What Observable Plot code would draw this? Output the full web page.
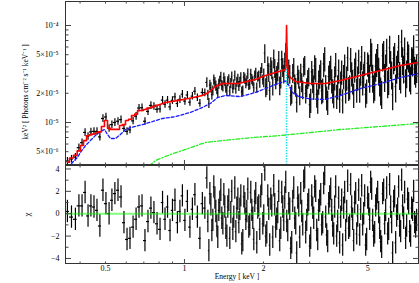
<!DOCTYPE html>
<html><head><meta charset="utf-8">
<script src="https://cdn.jsdelivr.net/npm/d3@7"></script>
<script src="https://cdn.jsdelivr.net/npm/@observablehq/plot@0.6"></script>
<style>
html,body{margin:0;padding:0;background:#fff;}
#wrap{position:relative;width:419px;height:283px;overflow:hidden;background:#fff;}
#top,#bot{position:absolute;left:0;}
#top{top:0;} #bot{top:164px;}
svg{display:block;}
</style></head><body><div id="wrap"><div id="top"></div><div id="bot"></div></div>
<script>
// ---------- DATA ----------
// bin centres (keV), first channel group
const energy = [
0.358,0.371,0.384,0.396,0.407,0.418,0.429,0.440,0.452,0.464,0.476,0.489,0.502,0.516,0.529,0.543,0.558,0.573,0.588,0.604,0.620,0.637,0.654,0.671,0.689,0.707,0.726,0.745,0.765,0.786,
0.807,0.825,0.843,0.862,0.881,0.900,0.920,0.940,0.961,0.982,1.004,1.026,1.049,1.072,1.096,1.120,1.145,1.170,1.196,
1.217,1.239,1.261,1.283,1.306,1.329,1.352,1.376,1.401,1.425,
1.451,1.476,1.502,1.529,1.556,1.584,1.612,1.640,1.669,1.699,
1.729,1.759,1.790,1.822,1.854,1.887,1.920,1.954,1.989,2.024,
2.060,2.096,2.133,2.171,2.209,2.248,2.288,2.329,2.370,2.412,
2.454,2.498,2.542,2.587,2.633,2.679,2.727,2.775,2.824,2.874,
2.925,2.977,3.029,3.083,3.137,3.193,3.249,3.307,3.365,3.425,
3.485,3.547,3.610,3.674,3.739,3.805,3.872,3.941,4.010,4.081,
4.154,4.227,4.302,4.378,4.456,4.535,4.615,4.697,4.780,4.864,
4.950,5.038,5.127,5.218,5.310,5.404,5.500,5.597,5.696,5.797,
5.900,6.004,6.110,6.218,6.328,6.440,6.554,6.670,6.788,6.908,
7.030,7.155,7.281,7.410,7.541,7.675];
// keV^2 flux, in units of 1e-6 photons cm^-2 s^-1 keV^-1 keV^2
const flux = [
4.0,4.2,4.4,5.5,6.2,7.9,7.2,8.0,8.1,8.1,7.1,11.0,11.4,8.7,9.5,10.0,10.3,10.7,8.7,8.1,8.4,10.4,11.6,14.1,14.2,10.3,13.0,15.0,14.7,13.7,
13.8,17.0,15.4,17.0,14.5,16.9,18.4,15.7,17.3,19.6,16.6,19.2,16.2,18.7,21.0,18.1,15.8,20.4,20.3,
25.9,15.8,22.9,21.3,26.0,21.9,25.0,29.5,23.4,26.5,
21.4,27.7,25.4,22.5,30.3,26.2,23.7,29.1,21.3,28.2,
26.9,24.3,31.6,26.5,30.3,22.8,30.3,32.8,27.6,51.9,
24.4,33.1,38.1,24.1,36.5,30.9,44.2,28.4,37.4,42.3,
48.0,36.2,18.9,32.4,25.3,16.1,28.3,32.6,22.0,39.2,
23.2,29.7,17.2,27.5,38.2,19.5,26.5,33.8,21.9,46.1,
18.2,29.8,37.7,21.6,29.3,18.9,34.4,25.8,17.0,38.7,
29.2,22.8,45.3,26.9,35.2,22.0,43.5,32.8,26.1,41.4,
21.4,37.3,54.6,29.5,24.4,42.9,34.8,21.8,48.8,30.0,
54.7,28.0,40.9,19.4,49.4,36.5,59.8,28.9,44.6,56.2,
32.7,47.7,28.2,43.4,35.7,37.2];
// residuals (chi)
const chi = [
0.2,-0.3,-0.5,0.7,0.7,1.9,-0.2,0.7,0.6,0.3,-1.1,2.1,0.9,0.0,1.2,1.8,2.1,1.5,-0.8,-2.3,-2.2,-1.2,-0.5,0.6,0.7,-2.4,-0.7,0.5,0.1,-0.9,
-1.4,1.0,-0.5,0.6,-1.5,0.3,1.2,-0.8,0.2,1.6,-0.6,1.1,-1.2,0.4,1.7,-0.3,-2.2,0.9,0.5,
3.2,-3.3,0.8,-0.6,1.4,-1.1,0.3,2.1,-0.9,0.6,
-2.0,1.2,0.1,-1.4,2.3,0.5,-0.8,1.6,-2.4,0.9,
0.2,-1.2,1.9,-0.4,1.1,-2.6,0.7,1.5,-0.9,3.9,
-1.7,0.4,1.3,-2.1,0.8,-0.5,2.0,-1.3,0.6,1.4,
-0.7,0.9,-3.1,1.1,-0.4,-3.5,0.7,1.8,-1.0,3.2,
-0.6,1.2,-2.2,0.5,2.4,-1.5,0.3,1.7,-0.8,3.5,
-1.9,0.9,2.2,-1.1,0.6,-2.0,1.4,-0.3,-2.8,1.9,
0.2,-1.3,2.6,-0.5,1.0,-1.8,2.1,0.4,-1.0,1.6,
-2.3,0.8,2.8,-0.6,-1.7,1.3,0.1,-2.5,1.8,-0.9,
2.3,-1.4,0.6,-3.5,1.5,-0.2,2.4,-1.6,0.7,1.9,
-1.1,0.9,-2.0,0.3,-0.8,-0.6];
// second, interleaved channel group above 1.2 keV
const energy2 = [
1.228,1.250,1.272,1.294,1.317,1.340,1.364,1.388,1.413,1.438,
1.463,1.489,1.515,1.542,1.570,1.598,1.626,1.654,1.684,1.714,
1.744,1.774,1.806,1.838,1.870,1.903,1.937,1.971,2.006,2.042,
2.078,2.114,2.152,2.190,2.228,2.268,2.308,2.349,2.391,2.433,
2.476,2.520,2.564,2.610,2.656,2.703,2.751,2.799,2.849,2.899,
2.951,3.003,3.056,3.110,3.165,3.221,3.278,3.336,3.395,3.455,
3.516,3.578,3.642,3.706,3.772,3.838,3.906,3.975,4.045,4.117,
4.190,4.264,4.340,4.417,4.495,4.575,4.656,4.738,4.822,4.907,
4.994,5.082,5.172,5.264,5.357,5.452,5.548,5.646,5.746,5.848,
5.952,6.057,6.164,6.273,6.384,6.497,6.612,6.729,6.848,6.969,
7.092,7.218,7.345,7.475,7.608];
const flux2 = [
19.2,24.3,19.4,27.5,23.9,20.3,26.7,24.2,28.9,22.7,
26.5,21.1,29.6,24.6,22.2,28.0,26.2,20.7,29.3,25.3,
31.8,24.8,27.9,22.9,32.3,29.5,25.7,36.3,29.2,23.1,
38.7,21.4,35.3,45.8,27.9,33.8,24.2,44.5,31.9,53.0,
30.9,31.7,19.8,37.4,23.3,31.4,19.1,26.0,37.6,19.9,
28.1,15.3,33.2,23.5,35.6,16.9,30.5,21.2,40.2,23.9,
16.4,33.2,27.3,19.2,40.1,23.7,17.3,33.6,30.2,21.6,
46.7,23.7,32.3,19.4,40.7,29.1,21.9,47.4,31.2,19.5,
40.7,29.5,49.2,23.0,38.2,48.2,27.0,20.0,51.8,37.6,
25.8,58.8,31.8,45.6,23.4,41.0,31.5,67.8,36.6,26.5,
51.1,30.2,44.8,59.5,33.2];
const chi2 = [
-0.7,1.8,-1.5,2.4,0.2,-2.1,1.0,-0.4,1.7,-1.3,
0.6,-2.2,2.0,-0.3,-1.6,1.3,0.4,-2.7,1.5,-0.5,
2.2,-1.0,0.3,-2.3,1.8,0.5,-1.4,2.6,-0.2,-2.0,
1.6,-2.8,0.7,2.5,-1.2,0.1,-2.4,1.9,-0.6,2.8,
-1.5,0.4,-2.6,2.3,-0.9,1.4,-2.1,0.2,2.9,-1.7,
0.8,-2.9,1.6,-0.4,2.0,-2.3,1.1,-1.0,2.7,-0.3,
-2.5,1.5,0.3,-1.8,2.4,-0.7,-2.6,1.2,0.5,-1.5,
2.9,-1.1,0.6,-2.4,1.8,-0.2,-1.9,2.5,0.0,-2.8,
1.4,-0.5,2.2,-2.0,0.7,1.9,-1.3,-3.0,2.1,0.3,
-1.8,2.6,-0.8,1.1,-2.6,0.4,-1.1,3.0,-0.4,-2.2,
1.3,-1.6,0.5,2.0,-1.2];
// relative flux errors by energy band
const errEdges = [0.8, 1.2, 2.0, 3.0, 5.0];
const errRel   = [0.09, 0.09, 0.12, 0.22, 0.28, 0.32];

// total model (red): binned part at low energies, then smooth
const modelStepE = energy.slice(0, 30);
const modelStepF = [3.9,4.3,4.6,5.1,5.8,6.5,7.3,7.5,7.6,7.9,8.0,9.1,10.5,8.7,8.5,8.5,8.5,9.3,9.5,10.5,10.8,11.8,12.2,13.3,13.3,13.6,14.0,14.3,14.6,15.0];
const modelE = [0.786,0.847,0.924,1.036,1.171,1.235,1.313,1.396,1.607,1.864,2.036,2.223,2.405,2.435,2.45,2.465,2.49,2.535,2.649,3.021,3.446,3.932,4.686,5.585,6.656,7.8];
const modelF = [15.0,16.1,16.7,17.7,19.0,20.4,23.5,25.2,25.2,27.8,30.5,32.8,34.8,36,100,42,32,29.1,26.5,25.2,25.2,27.1,30.5,34.3,38.7,41.6];
// thermal component (blue dashed)
const compE = [0.352,0.374,0.391,0.401,0.420,0.438,0.458,0.478,0.496,0.509,0.522,0.546,0.570,0.596,0.623,0.692,0.755,0.825,0.924,1.054,1.171,1.256,1.336,1.433,1.635,1.864,2.036,2.223,2.427,2.491,2.58,2.72,3.021,3.446,3.932,4.686,5.585,6.656,7.8];
const compF = [3.1,3.87,4.36,4.9,5.79,6.52,7.36,8.08,8.47,7.52,6.84,6.84,7.52,8.47,8.88,9.53,10.2,11.0,11.5,12.7,14.3,15.7,18.1,19.0,18.5,20.4,22.4,24.6,26.8,24.6,20.4,18.5,17.5,17.3,19.0,22.4,25.2,29.1,32.0];
// power-law component (green dash-dot)
const powE = [0.70,0.729,0.776,0.885,1.009,1.20,1.40,1.82,2.32,3.93,5.58,7.8];
const powF = [3.0,3.52,4.06,4.68,5.27,6.22,6.52,7.0,7.34,8.47,9.1,9.77];
// gaussian line (cyan dotted)
const lineE = [2.45];
const lineTop = 42;

// ticks
const xDomain = [0.352, 7.8];
const xMajor = [1];
const xMinor = [0.4,0.5,0.6,0.7,0.8,0.9,2,3,4,5,6,7];
const xLabelVals = [0.5, 1, 2, 5];
const xLabelText = ["0.5", "1", "2", "5"];
const yDomain = [3.69, 176.8];
const yMajor = [10, 100];
const yMinor = [4,5,6,7,8,9,20,30,40,50,60,70,80,90];
const yLabelVals = [100, 50, 20, 10, 5];
const yLabelText = ["10⁻⁴", "5×10⁻⁵", "2×10⁻⁵", "10⁻⁵", "5×10⁻⁶"];
const chiDomain = [-4.45, 4.31];
const chiMajor = [-4,-2,0,2,4];
const chiMinor = [-3,-1,1,3];
const chiLabelText = ["−4","−2","0","2","4"];
const yTitle = "keV² [ Photons cm⁻² s⁻¹ keV⁻¹ ]";
const xTitle = "Energy [ keV ]";
const chiTitle = "χ";

// ---------- BUILD ----------
const W = 419, ML = 65, MR = 1;
const FW = W - ML - MR;
const font = "'Liberation Serif','Times New Roman',serif";
const tickColor = "#444";
const barW = 1.2;

const rows = energy.map((e, i) => ({e, f: flux[i], c: chi[i]}))
  .concat(energy2.map((e, i) => ({e, f: flux2[i], c: chi2[i]})))
  .sort((a, b) => a.e - b.e);
const bins = rows.map((r, i) => {
  const e = r.e;
  const prev = i > 0 ? rows[i-1].e : e*e/rows[i+1].e;
  const next = i < rows.length-1 ? rows[i+1].e : e*e/rows[i-1].e;
  const rel = errRel[d3.bisectRight(errEdges, e)];
  return {e, lo: Math.sqrt(prev*e), hi: Math.sqrt(e*next), f: r.f, err: rel*r.f, chi: r.c};
});

function frameTicks(tx, ty, size, fh) {
  const common = {tickSize: size, tickFormat: () => "", label: null, stroke: tickColor};
  return [
    Plot.axisX({...common, anchor: "bottom", ticks: tx, dy: -fh}),
    Plot.axisX({...common, anchor: "top", ticks: tx, dy: fh}),
    Plot.axisY({...common, anchor: "right", ticks: ty, dx: -FW}),
    Plot.axisY({...common, anchor: "left", ticks: ty, dx: FW})
  ];
}
const pairs = (a, b) => a.map((v, i) => [v, b[i]]);

const topH = 165, topFH = topH - 2;
const topPlot = Plot.plot({
  width: W, height: topH, marginLeft: ML, marginRight: MR, marginTop: 1, marginBottom: 1,
  style: {fontFamily: font, fontSize: "8px", background: "transparent", color: "#000"},
  x: {type: "log", domain: xDomain, axis: null},
  y: {type: "log", domain: yDomain, axis: null},
  marks: [
    Plot.ruleX(bins, {x: "e", y1: d => d.f - d.err, y2: d => d.f + d.err, stroke: "#000", strokeWidth: barW, clip: true}),
    Plot.ruleY(bins, {y: "f", x1: "lo", x2: "hi", stroke: "#000", strokeWidth: 1.2, clip: true}),
    Plot.line(pairs(powE, powF), {x: d => d[0], y: d => d[1], stroke: "#22ee22", strokeWidth: 1.3, strokeDasharray: "4,2,1.2,2", clip: true}),
    Plot.line(pairs(compE, compF), {x: d => d[0], y: d => d[1], stroke: "#1a1aff", strokeWidth: 1.3, strokeDasharray: "3,2", clip: true}),
    Plot.ruleX(lineE, {x: d => d, y1: 1, y2: lineTop, stroke: "#22e0ee", strokeWidth: 1.6, strokeDasharray: "1.5,1.2", clip: true}),
    Plot.line(pairs(modelStepE, modelStepF), {x: d => d[0], y: d => d[1], curve: "step", stroke: "#ff0000", strokeWidth: 1.6, clip: true}),
    Plot.line(pairs(modelE, modelF), {x: d => d[0], y: d => d[1], stroke: "#ff0000", strokeWidth: 1.6, clip: true}),
    Plot.frame({stroke: "#333", strokeWidth: 1}),
    ...frameTicks(xMajor, yMajor, 5, topFH),
    ...frameTicks(xMinor, yMinor, 2.5, topFH),
    Plot.axisY({anchor: "left", ticks: yLabelVals, tickSize: 0, tickPadding: 7, label: null,
      tickFormat: d => yLabelText[yLabelVals.indexOf(d)], fontSize: 8}),
    Plot.text([yTitle], {text: d => d, frameAnchor: "left", textAnchor: "middle", lineAnchor: "middle",
      dx: -40, dy: 9, rotate: -90, fontSize: 7.5, fill: "#000"})
  ]
});
document.getElementById("top").append(topPlot);

const botH = 119, botFH = botH - 1 - 20;
const botPlot = Plot.plot({
  width: W, height: botH, marginLeft: ML, marginRight: MR, marginTop: 1, marginBottom: 20,
  style: {fontFamily: font, fontSize: "8px", background: "transparent", color: "#000", overflow: "visible"},
  x: {type: "log", domain: xDomain, axis: null},
  y: {domain: chiDomain, axis: null},
  marks: [
    Plot.ruleX(bins, {x: "e", y1: d => d.chi - 1, y2: d => d.chi + 1, stroke: "#000", strokeWidth: barW, clip: true}),
    Plot.ruleY(bins, {y: "chi", x1: "lo", x2: "hi", stroke: "#000", strokeWidth: 1.2, clip: true}),
    Plot.ruleY([0], {stroke: "#00ff00", strokeOpacity: 0.5, strokeWidth: 2}),
    Plot.frame({stroke: "#333", strokeWidth: 1}),
    ...frameTicks(xMajor, chiMajor, 5, botFH),
    ...frameTicks(xMinor, chiMinor, 2.5, botFH),
    Plot.axisY({anchor: "left", ticks: chiMajor, tickSize: 0, tickPadding: 6, label: null,
      tickFormat: d => chiLabelText[chiMajor.indexOf(d)], fontSize: 8}),
    Plot.axisX({anchor: "bottom", ticks: xLabelVals, tickSize: 0, tickPadding: 2, label: null,
      tickFormat: d => xLabelText[xLabelVals.indexOf(d)], fontSize: 8}),
    Plot.text([xTitle], {text: d => d, frameAnchor: "bottom", textAnchor: "middle", dx: -5, dy: 15.5, fontSize: 7.5, fill: "#000"}),
    Plot.text([chiTitle], {text: d => d, frameAnchor: "left", textAnchor: "middle", dx: -38, rotate: -90, fontSize: 9, fill: "#000"})
  ]
});
document.getElementById("bot").append(botPlot);
</script>
</body></html>
